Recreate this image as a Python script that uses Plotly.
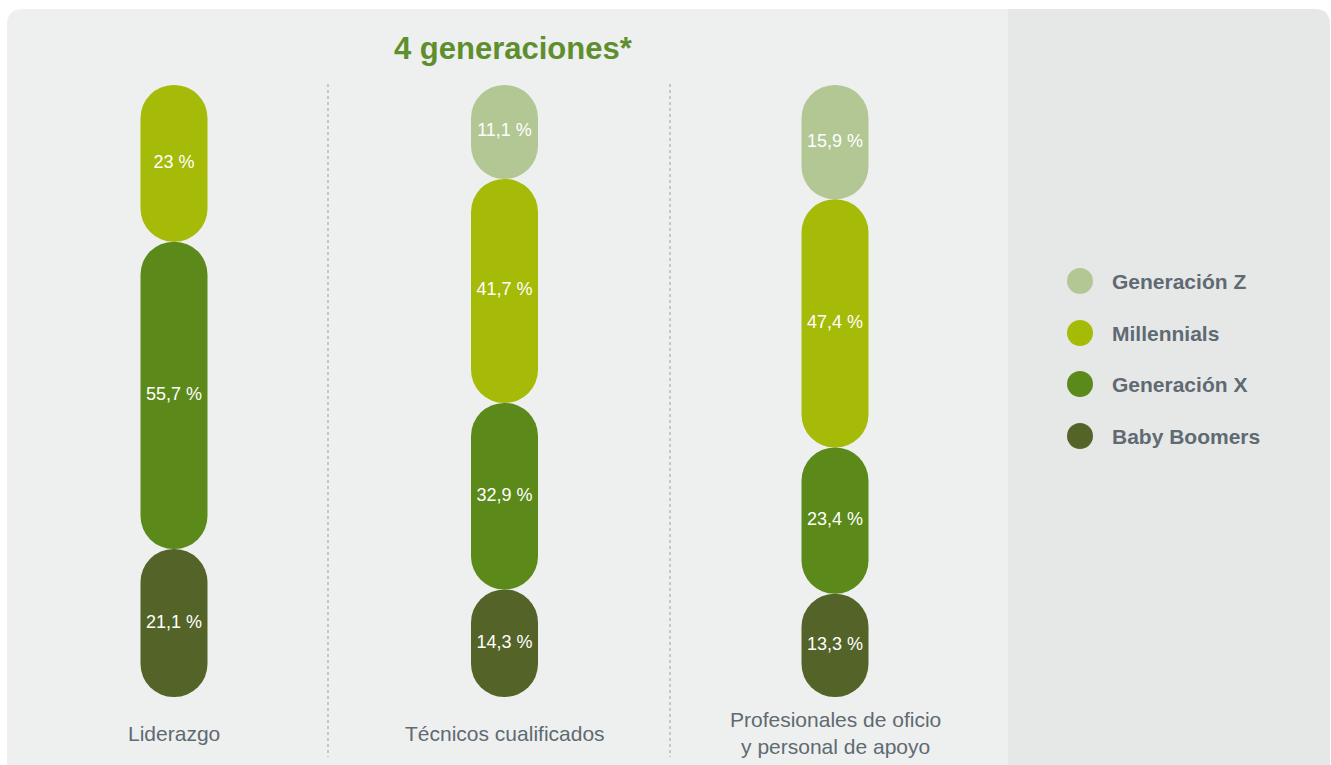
import plotly.graph_objects as go

# ---- data -------------------------------------------------------------
categories = ["Liderazgo", "Técnicos cualificados",
              "Profesionales de oficio<br>y personal de apoyo"]
generations = ["Generación Z", "Millennials", "Generación X", "Baby Boomers"]
gen_z = [None, 11.1, 15.9]
millennials = [23, 41.7, 47.4]
gen_x = [55.7, 32.9, 23.4]
boomers = [21.1, 14.3, 13.3]
title_text = "4 generaciones*"

# ---- styling ----------------------------------------------------------
colors = ["#b3c795", "#a6ba08", "#5b8a1a", "#546428"]
text_gray = "#5f6a72"
font_family = "Liberation Sans, Arial, sans-serif"
W, H = 1331, 765

# pixel geometry of the plotting frame
COL_PX = [174, 504, 835]          # column centres
PX_PER_X = (COL_PX[2] - COL_PX[0]) / 2
TOP_PX, BOT_PX = 85, 697          # top / bottom of every column
PX_PER_Y = (BOT_PX - TOP_PX) / 100
BAR_PX = 67
CAP_PAD = 11                      # added to each share so round ends stay visible

x0 = -COL_PX[0] / PX_PER_X
x_range = [x0, x0 + W / PX_PER_X]
y_range = [-(H - BOT_PX) / PX_PER_Y, 100 + TOP_PX / PX_PER_Y]
bar_w = BAR_PX / PX_PER_X


def px_to_x(px):
    return x0 + px / PX_PER_X


def py_to_y(py):
    return 100 - (py - TOP_PX) / PX_PER_Y


def fmt(v):
    return f"{v:g}".replace(".", ",") + " %"


series = [gen_z, millennials, gen_x, boomers]

# stacked geometry per column, bottom (Baby Boomers) first
bases = {g: [None] * 3 for g in generations}
lengths = {g: [None] * 3 for g in generations}
for c in range(3):
    present = [(g, s[c]) for g, s in zip(generations, series) if s[c] is not None]
    total = sum(v + CAP_PAD for _, v in present)
    base = 0.0
    for g, v in reversed(present):
        length = (v + CAP_PAD) / total * 100
        bases[g][c] = base
        lengths[g][c] = length
        base += length

fig = go.Figure()

# each segment is a pill-shaped bar sitting on top of the previous one
for g, s, col in zip(generations, series, colors):
    xs, ys, bs = [], [], []
    for c in range(3):
        if s[c] is None:
            continue
        xs.append(c)
        ys.append(lengths[g][c])
        bs.append(bases[g][c])
    fig.add_trace(go.Bar(
        x=xs, y=ys, base=bs, width=bar_w,
        marker=dict(color=col, cornerradius="50%", line=dict(width=0)),
        name=g, hoverinfo="skip", showlegend=False,
    ))

# value labels
lx, ly, lt = [], [], []
for g, s in zip(generations, series):
    for c in range(3):
        if s[c] is None:
            continue
        lx.append(c)
        ly.append(bases[g][c] + lengths[g][c] / 2)
        lt.append(fmt(s[c]))
fig.add_trace(go.Scatter(
    x=lx, y=ly, text=lt, mode="text",
    textfont=dict(color="white", size=18, family=font_family),
    hoverinfo="skip", showlegend=False,
))

# custom legend dots
legend_rows_px = [281, 333, 384, 436]
fig.add_trace(go.Scatter(
    x=[px_to_x(1080)] * 4, y=[py_to_y(p) for p in legend_rows_px],
    mode="markers",
    marker=dict(size=26, color=colors, line=dict(width=0)),
    hoverinfo="skip", showlegend=False,
))

annotations = []
for g, p in zip(generations, legend_rows_px):
    annotations.append(dict(
        x=1110 / W, y=1 - p / H, xref="paper", yref="paper",
        xanchor="left", yanchor="middle", showarrow=False,
        text=f"<b>{g}</b>",
        font=dict(size=21, color=text_gray, family=font_family),
    ))

# category labels under each column
for c, cat in enumerate(categories):
    annotations.append(dict(
        x=c, y=py_to_y(733), xref="x", yref="y",
        xanchor="center", yanchor="middle", showarrow=False,
        text=cat, align="center",
        font=dict(size=21, color=text_gray, family=font_family),
    ))

annotations.append(dict(
    x=513 / W, y=1 - 48 / H, xref="paper", yref="paper",
    xanchor="center", yanchor="middle", showarrow=False,
    text=f"<b>{title_text}</b>",
    font=dict(size=31, color="#5e8e2e", family=font_family),
))


def P(px, py):
    return f"{px / W:.5f},{1 - py / H:.5f}"


def top_rounded_panel(left, right, top, bottom, r_left, r_right):
    return (f"M {P(left, bottom)} L {P(left, top + r_left)} "
            f"Q {P(left, top)} {P(left + r_left, top)} "
            f"L {P(right - r_right, top)} "
            f"Q {P(right, top)} {P(right, top + r_right)} "
            f"L {P(right, bottom)} Z")


shapes = [
    dict(type="path", xref="paper", yref="paper", layer="below",
         path=top_rounded_panel(7, 1330, 9, 780, 16, 16),
         fillcolor="#eef0ef", line=dict(width=0)),
    dict(type="path", xref="paper", yref="paper", layer="below",
         path=top_rounded_panel(1008, 1330, 9, 780, 0, 16),
         fillcolor="#e6e8e7", line=dict(width=0)),
]
for sx in (328, 670):
    shapes.append(dict(
        type="line", xref="paper", yref="paper", layer="below",
        x0=sx / W, x1=sx / W, y0=1 - 84 / H, y1=1 - 757 / H,
        line=dict(color="#9a9fa3", width=1, dash="dot"),
    ))

fig.update_layout(
    width=W, height=H,
    margin=dict(l=0, r=0, t=0, b=0),
    paper_bgcolor="white", plot_bgcolor="rgba(0,0,0,0)",
    barmode="overlay", showlegend=False,
    shapes=shapes, annotations=annotations,
    font=dict(family=font_family),
    xaxis=dict(range=x_range, visible=False, fixedrange=True),
    yaxis=dict(range=y_range, visible=False, fixedrange=True),
)

fig.write_html("out.html")
